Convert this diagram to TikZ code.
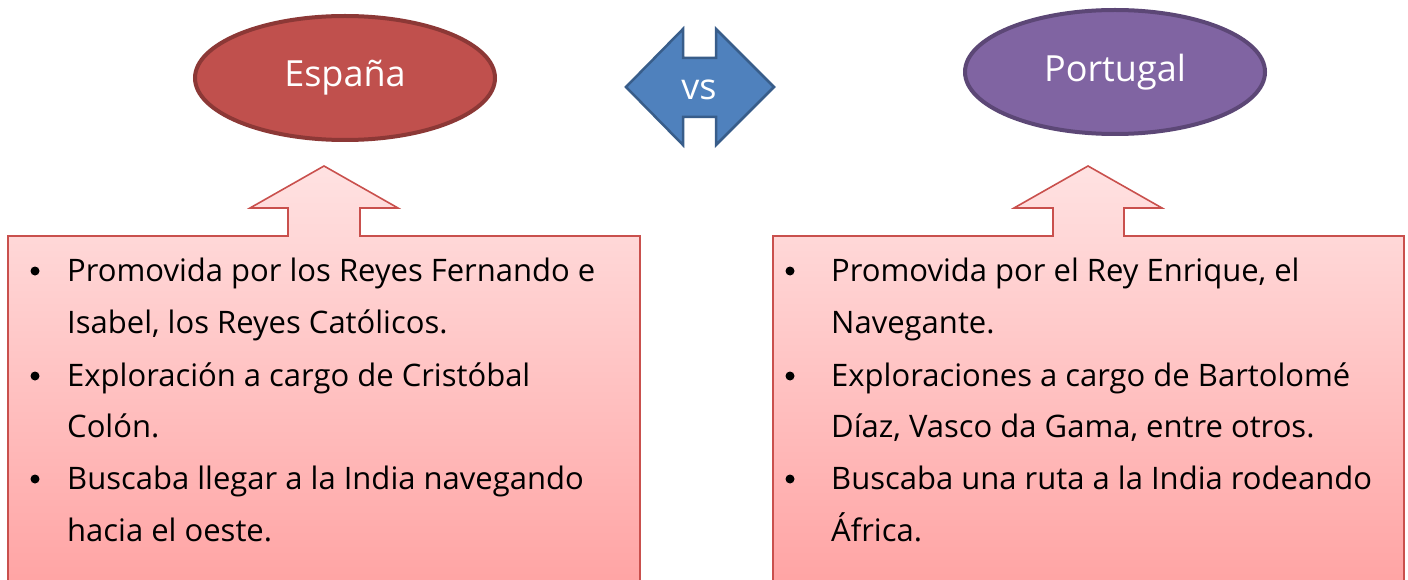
\documentclass[tikz,border=0pt]{standalone}
\usepackage{fontspec}
\setmainfont{Open Sans}
\usetikzlibrary{shapes.geometric}
\definecolor{esfill}{HTML}{C0504D}
\definecolor{esline}{HTML}{8C3836}
\definecolor{ptfill}{HTML}{8064A2}
\definecolor{ptline}{HTML}{5C4776}
\definecolor{vsfill}{HTML}{4F81BD}
\definecolor{vsline}{HTML}{385D8A}
\definecolor{boxline}{HTML}{C9504D}
\definecolor{boxtop}{HTML}{FFE2E2}
\definecolor{boxbot}{HTML}{FFA0A0}
\tikzset{
  title/.style={ellipse, minimum width=300pt, minimum height=124pt, line width=4pt, text=white, font=\fontsize{36}{40}\selectfont},
  callout/.style={draw=boxline, line width=1.6pt, top color=boxtop, bottom color=boxbot, line join=miter},
  line/.style={anchor=base west, inner sep=0pt, font=\fontsize{31}{36}\selectfont},
  bul/.style={fill=black, circle, inner sep=0pt, minimum size=9pt}
}
\begin{document}
\begin{tikzpicture}[x=1pt,y=-1pt]
\useasboundingbox (0,0) rectangle (1408,580);
\fill[white] (0,0) rectangle (1408,580);
% titles
\node[title, draw=esline, fill=esfill] (es) at (345,78) {España};
\node[title, draw=ptline, fill=ptfill] (pt) at (1115,72) {Portugal};
% vs arrow
\draw[line width=2.5pt, draw=vsline, fill=vsfill, line join=miter]
  (626,87) -- (683,29) -- (683,58) -- (716,58) -- (716,29) -- (774,87)
  -- (716,145) -- (716,117) -- (683,117) -- (683,145) -- cycle;
\node[text=white, font=\fontsize{36}{40}\selectfont] (vs) at (699,90) {vs};
% callouts
\begin{scope}
\clip (0,0) rectangle (1408,580);
\path[callout] (8,236) -- (288,236) -- (288,208) -- (250,208) -- (324,166) -- (398,208) -- (360,208) -- (360,236) -- (640,236) -- (640,610) -- (8,610) -- cycle;
\path[callout] (773,236) -- (1053,236) -- (1053,208) -- (1014,208) -- (1088,166) -- (1162,208) -- (1124,208) -- (1124,236) -- (1404,236) -- (1404,610) -- (773,610) -- cycle;
\end{scope}
% left text
\node[bul] (lb1) at (35,271) {};
\node[bul] (lb2) at (35,376) {};
\node[bul] (lb3) at (35,479) {};
\node[line] (l1) at (67,281) {Promovida por los Reyes Fernando e};
\node[line] (l2) at (67,333) {Isabel, los Reyes Católicos.};
\node[line] (l3) at (67,386) {Exploración a cargo de Cristóbal};
\node[line] (l4) at (67,437) {Colón.};
\node[line] (l5) at (67,489) {Buscaba llegar a la India navegando};
\node[line] (l6) at (67,541) {hacia el oeste.};
% right text
\node[bul] (rb1) at (790,271) {};
\node[bul] (rb2) at (790,376) {};
\node[bul] (rb3) at (790,479) {};
\node[line] (r1) at (831,281) {Promovida por el Rey Enrique, el};
\node[line] (r2) at (831,333) {Navegante.};
\node[line] (r3) at (831,386) {Exploraciones a cargo de Bartolomé};
\node[line] (r4) at (831,437) {Díaz, Vasco da Gama, entre otros.};
\node[line] (r5) at (831,489) {Buscaba una ruta a la India rodeando};
\node[line] (r6) at (831,541) {África.};
\end{tikzpicture}
\end{document}
